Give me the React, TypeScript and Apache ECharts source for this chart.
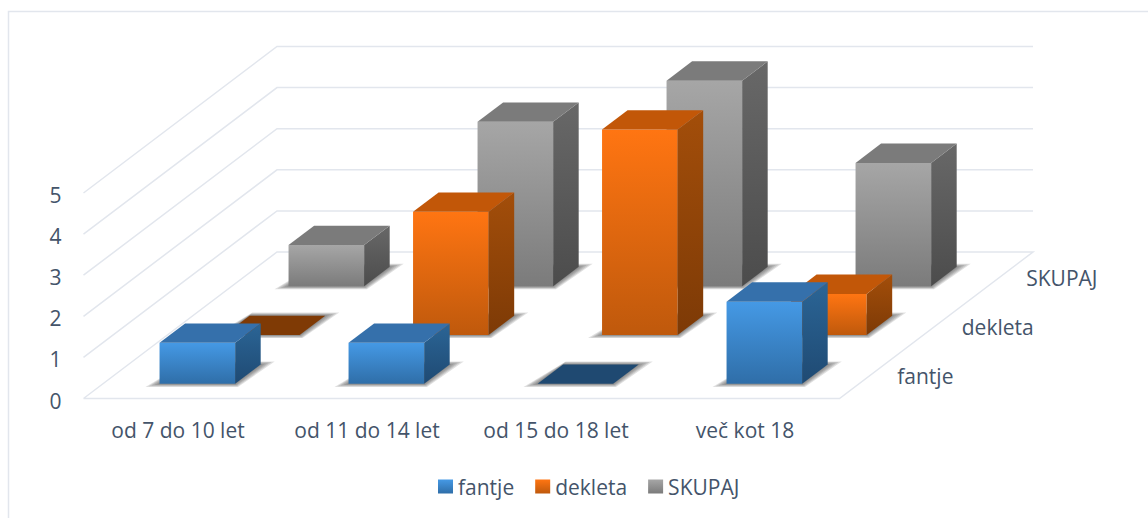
import React, { useEffect, useRef } from "react";
import * as echarts from "echarts";

const categories = ["od 7 do 10 let", "od 11 do 14 let", "od 15 do 18 let", "več kot 18"];
const fantje = [1, 1, 0, 2];
const dekleta = [0, 3, 5, 1];
const skupaj = [1, 4, 5, 3];
const rowNames = ["fantje", "dekleta", "SKUPAJ"];
const yTicks = [0, 1, 2, 3, 4, 5];

const DX = 193.5;
const DY = -146.5;
const TEXT = "#44546A";
const FONT = "'Open Sans'";
const FS = 21;

type Shade = { f0: string; f1: string; top: string; s0: string; s1: string; flat: string };
const BLUE: Shade = { f0: "#4599E5", f1: "#2F6EA8", top: "#3570AB", s0: "#2B6596", s1: "#1F4A73", flat: "#1F4971" };
const ORANGE: Shade = { f0: "#FF7512", f1: "#BF590C", top: "#C25708", s0: "#A34E0A", s1: "#7D3A06", flat: "#7F3A05" };
const GRAY: Shade = { f0: "#A6A6A6", f1: "#7B7B7B", top: "#7B7B7B", s0: "#686868", s1: "#4C4C4C", flat: "#4C4C4C" };

const vGrad = (a: string, b: string) => new echarts.graphic.LinearGradient(0, 0, 0, 1, [
  { offset: 0, color: a }, { offset: 1, color: b },
]);

const SHADOW_MARGINS = [14, 11, 8, 5, 2];

function barSeries(name: string, values: number[], row: number, s: Shade) {
  return {
    type: "custom",
    name,
    z: 3 + (2 - row),
    itemStyle: { color: vGrad(s.f0, s.f1) },
    encode: { x: 0, y: 1 },
    data: values.map((v, i) => [i, v]),
    renderItem: (_p: any, api: any) => {
      const cat = api.value(0);
      const val = api.value(1);
      const band = api.size([1, 0])[0];
      const w = band * 0.4;
      const t = row / 3 + 0.1;
      const d = 0.132;
      const base = api.coord([cat, 0]);
      const topP = api.coord([cat, val]);
      const x0 = base[0] - w / 2 + t * DX;
      const x1 = x0 + w;
      const yb = base[1] + t * DY;
      const yt = topP[1] + t * DY;
      const ox = d * DX;
      const oy = d * DY;
      const children: any[] = SHADOW_MARGINS.map((m) => {
        const p = m * 0.22;
        return {
          type: "polygon",
          shape: {
            points: [
              [x0 - m, yb + p],
              [x1 + m * 0.2, yb + p],
              [x1 + ox + m, yb + oy - p],
              [x0 + ox + m * 0.2, yb + oy - p],
            ],
          },
          style: { fill: "rgba(60,60,60,0.16)" },
        };
      });
      if (val > 0) {
        children.push(
          {
            type: "polygon",
            shape: { points: [[x0, yt], [x1, yt], [x1, yb], [x0, yb]] },
            style: { fill: vGrad(s.f0, s.f1) },
          },
          {
            type: "polygon",
            shape: { points: [[x1, yt], [x1 + ox, yt + oy], [x1 + ox, yb + oy], [x1, yb]] },
            style: { fill: vGrad(s.s0, s.s1) },
          },
        );
      }
      children.push({
        type: "polygon",
        shape: { points: [[x0, yt], [x1, yt], [x1 + ox, yt + oy], [x0 + ox, yt + oy]] },
        style: { fill: val > 0 ? s.top : s.flat },
      });
      return { type: "group", children };
    },
  };
}

const wallSeries = {
  type: "custom",
  name: "walls",
  z: 1,
  silent: true,
  encode: { y: 0 },
  data: yTicks.map((v) => [v]),
  renderItem: (_p: any, api: any) => {
    const v = api.value(0);
    const left = api.coord([0, v]);
    const right = api.coord([categories.length - 1, v]);
    const band = api.size([1, 0])[0];
    const xa = left[0] - band / 2;
    const xb = right[0] + band / 2;
    const y = left[1];
    const pts: number[][] = [[xa, y], [xa + DX, y + DY], [xb + DX, y + DY]];
    if (v === 0) pts.push([xb, y], [xa, y]);
    return {
      type: "polyline",
      shape: { points: pts },
      style: { stroke: "#E2E6ED", lineWidth: 1.5, fill: "none" },
    };
  },
};

const depthLabelSeries = {
  type: "custom",
  name: "depth",
  z: 2,
  silent: true,
  data: rowNames.map((_n, i) => [i]),
  renderItem: (_p: any, api: any) => {
    const i = api.value(0);
    const right = api.coord([categories.length - 1, 0]);
    const band = api.size([1, 0])[0];
    const t = (i + 0.5) / 3;
    return {
      type: "text",
      x: right[0] + band / 2 + t * DX + 25.5,
      y: right[1] + t * DY + 1.5,
      style: { text: rowNames[i], fill: TEXT, font: `${FS}px ${FONT}`, textAlign: "left", textVerticalAlign: "middle" },
    };
  },
};

export default function App() {
  const ref = useRef<HTMLDivElement>(null);
  useEffect(() => {
    const chart = echarts.init(ref.current!, undefined, { renderer: "svg" });
    chart.setOption({
      animation: false,
      backgroundColor: "#fff",
      graphic: [{
        type: "polyline",
        silent: true,
        z: 0,
        shape: { points: [[8.5, 518], [8.5, 11.5], [1148, 11.5]] },
        style: { stroke: "#E2E6ED", lineWidth: 1.5, fill: "none" },
      }],
      legend: {
        left: 433,
        top: 471,
        itemWidth: 15,
        itemHeight: 14,
        itemGap: 21,
        icon: "rect",
        selectedMode: false,
        textStyle: { color: TEXT, fontFamily: FONT, fontSize: FS },
        data: rowNames.map((n) => ({ name: n })),
      },
      grid: { left: 83.5, right: 1148 - 839.5, top: 193, bottom: 518 - 398.5, containLabel: false },
      xAxis: {
        type: "category",
        data: categories,
        axisLine: { show: false },
        axisTick: { show: false },
        axisLabel: { color: TEXT, fontFamily: FONT, fontSize: FS, margin: 21, interval: 0 },
      },
      yAxis: {
        type: "value",
        min: 0,
        max: 5,
        interval: 1,
        axisLine: { show: false },
        axisTick: { show: false },
        splitLine: { show: false },
        axisLabel: {
          color: TEXT,
          margin: 22,
          formatter: "{n|{value}}",
          rich: { n: { color: TEXT, fontFamily: FONT, fontSize: FS, padding: [4, 0, 0, 0] } },
        },
      },
      series: [
        wallSeries,
        depthLabelSeries,
        barSeries("SKUPAJ", skupaj, 2, GRAY),
        barSeries("dekleta", dekleta, 1, ORANGE),
        barSeries("fantje", fantje, 0, BLUE),
      ],
    });
    return () => chart.dispose();
  }, []);
  return <div ref={ref} style={{ position: "fixed", left: 0, top: 0, width: 1148, height: 518 }} />;
}
